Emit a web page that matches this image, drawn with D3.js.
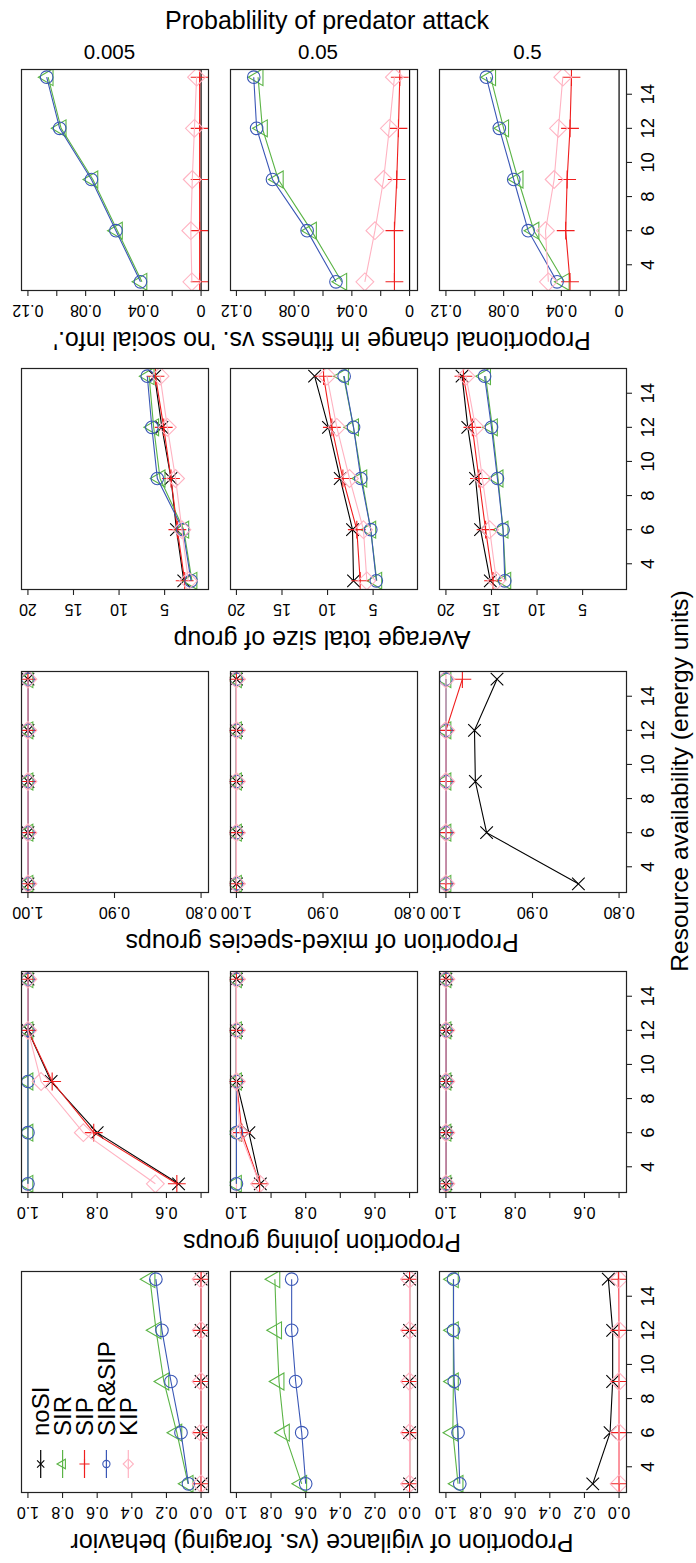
<!DOCTYPE html>
<html><head><meta charset="utf-8">
<script src="https://cdn.jsdelivr.net/npm/d3@7"></script>
<style>body{margin:0;background:#fff}svg{display:block}</style>
</head><body><svg id="c" width="696" height="1563"></svg>
<script>
// ---------------- DATA ----------------
const resource = [3, 6, 9, 12, 15];
const resourceTicks = [4, 6, 8, 10, 12, 14];
const attackProbs = ["0.005", "0.05", "0.5"];
const seriesNames = ["noSI", "SIR", "SIP", "SIR&SIP", "KIP"];

// Row 1: proportional change in fitness vs. 'no social info.' (one list per attack probability)
const fitness_SIR    = [[0.041, 0.058, 0.075, 0.097, 0.106], [0.047, 0.068, 0.091, 0.102, 0.105], [0.038, 0.059, 0.070, 0.080, 0.089]];
const fitness_SIP    = [[0.001, 0.001, 0.001, 0.001, 0.001], [0.0105, 0.0105, 0.0089, 0.0077, 0.0068], [0.034, 0.037, 0.036, 0.034, 0.033]];
const fitness_SIRSIP = [[0.042, 0.059, 0.076, 0.098, 0.107], [0.051, 0.071, 0.095, 0.106, 0.108], [0.043, 0.063, 0.073, 0.083, 0.092]];
const fitness_KIP    = [[0.0064, 0.0071, 0.0061, 0.0046, 0.0031], [0.031, 0.024, 0.018, 0.014, 0.0105], [0.049, 0.051, 0.045, 0.042, 0.039]];
const fitnessTicks = [0, 0.02, 0.04, 0.06, 0.08, 0.10, 0.12];
const fitnessTickLabels = ["0", "", "0.04", "", "0.08", "", "0.12"];

// Row 2: average total size of group
const size_noSI   = [[2.9, 3.7, 4.3, 5.3, 6.1], [7.15, 7.26, 8.61, 9.9, 11.42], [15.13, 16.2, 16.75, 17.6, 18.23]];
const size_SIR    = [[2.0, 2.9, 5.5, 6.2, 6.7], [4.6, 5.26, 6.24, 7.15, 8.25], [13.43, 13.73, 14.28, 14.9, 15.65]];
const size_SIP    = [[2.8, 3.6, 4.3, 5.1, 6.0], [6.42, 6.79, 8.32, 9.53, 10.44], [14.83, 15.65, 16.38, 17.1, 18.08]];
const size_SIRSIP = [[2.1, 3.0, 5.8, 6.4, 6.9], [4.65, 5.26, 6.35, 7.15, 8.18], [13.54, 13.73, 14.35, 15.0, 15.76]];
const size_KIP    = [[2.4, 3.1, 3.8, 4.7, 5.5], [5.69, 6.06, 7.59, 8.98, 10.07], [14.46, 15.2, 16.0, 16.75, 17.8]];
const sizeTicks = [5, 10, 15, 20];
const sizeTickLabels = ["5", "10", "15", "20"];

// Row 3: proportion of mixed-species groups
const mixed_noSI   = [[1, 1, 1, 1, 1], [1, 1, 1, 1, 1], [0.847, 0.953, 0.966, 0.967, 0.941]];
const mixed_SIR    = [[1, 1, 1, 1, 1], [1, 1, 1, 1, 1], [1, 1, 1, 1, 1]];
const mixed_SIP    = [[1, 1, 1, 1, 1], [1, 1, 1, 1, 1], [1, 1, 1, 1, 0.981]];
const mixed_SIRSIP = [[1, 1, 1, 1, 1], [1, 1, 1, 1, 1], [1, 1, 1, 1, 1]];
const mixed_KIP    = [[1, 1, 1, 1, 1], [1, 1, 1, 1, 1], [1, 1, 1, 1, 1]];
const mixedTicks = [0.80, 0.90, 1.00];
const mixedTickLabels = ["0.80", "0.90", "1.00"];

// Row 4: proportion joining groups
const join_noSI   = [[0.565, 0.80, 0.933, 1, 1], [0.931, 0.964, 1, 1, 1], [1, 1, 1, 1, 1]];
const join_SIR    = [[1, 1, 1, 1, 1], [1, 1, 1, 1, 1], [1, 1, 1, 1, 1]];
const join_SIP    = [[0.57, 0.81, 0.93, 1, 1], [0.933, 0.984, 1, 1, 1], [1, 1, 1, 1, 1]];
const join_SIRSIP = [[1, 1, 1, 1, 1], [1, 1, 1, 1, 1], [1, 1, 1, 1, 1]];
const join_KIP    = [[0.632, 0.84, 0.962, 1, 1], [0.933, 0.99, 1, 1, 1], [1, 1, 1, 1, 1]];
const joinTicks = [0.5, 0.6, 0.7, 0.8, 0.9, 1.0];
const joinTickLabels = ["", "0.6", "", "0.8", "", "1.0"];

// Row 5: proportion of vigilance (vs. foraging) behavior
const vig_noSI   = [[0, 0, 0, 0, 0], [0, 0, 0, 0, 0], [0.152, 0.052, 0.037, 0.037, 0.062]];
const vig_SIR    = [[0.075, 0.14, 0.215, 0.26, 0.295], [0.623, 0.723, 0.754, 0.768, 0.778], [0.93, 0.96, 0.957, 0.957, 0.957]];
const vig_SIP    = [[0, 0, 0, 0, 0], [0, 0, 0, 0, 0], [0, 0, 0, 0, 0.004]];
const vig_SIRSIP = [[0.073, 0.116, 0.174, 0.226, 0.261], [0.600, 0.623, 0.658, 0.681, 0.681], [0.92, 0.93, 0.952, 0.956, 0.956]];
const vig_KIP    = [[0, 0, 0, 0, 0], [0, 0, 0, 0, 0], [0, 0, 0, 0, 0]];
const vigTicks = [0, 0.2, 0.4, 0.6, 0.8, 1.0];
const vigTickLabels = ["0.0", "0.2", "0.4", "0.6", "0.8", "1.0"];

const rowTitles = [
  "Proportional change in fitness vs. 'no social info.'",
  "Average total size of group",
  "Proportion of mixed-species groups",
  "Proportion joining groups",
  "Proportion of vigilance (vs. foraging) behavior"
];

// ---------------- LAYOUT / STYLE ----------------
const colors = ["#000000", "#5BB446", "#F01E1E", "#3A57B6", "#FFB3C2"];
const colLeft = [21, 229.5, 439], panelW = 187;
const rowTop = [69, 368, 671, 971, 1271], panelH = 221;
const R = 6.3;
const FONT = "'Liberation Sans', Arial, Helvetica, sans-serif";

const rows = [
  { lim: [0, 0.12], ticks: fitnessTicks, labels: fitnessTickLabels, ref: 0, refColor: "#000",
    series: [null, fitness_SIR, fitness_SIP, fitness_SIRSIP, fitness_KIP] },
  { lim: [1, 20], ticks: sizeTicks, labels: sizeTickLabels, ref: null,
    series: [size_noSI, size_SIR, size_SIP, size_SIRSIP, size_KIP] },
  { lim: [0.8, 1.0], ticks: mixedTicks, labels: mixedTickLabels, ref: 1, refColor: colors[4],
    series: [mixed_noSI, mixed_SIR, mixed_SIP, mixed_SIRSIP, mixed_KIP] },
  { lim: [0.5, 1.0], ticks: joinTicks, labels: joinTickLabels, ref: 1, refColor: colors[4],
    series: [join_noSI, join_SIR, join_SIP, join_SIRSIP, join_KIP] },
  { lim: [0, 1], ticks: vigTicks, labels: vigTickLabels, ref: 0, refColor: colors[4],
    series: [vig_noSI, vig_SIR, vig_SIP, vig_SIRSIP, vig_KIP] }
];

function markerPath(k, r) {
  const s = Math.SQRT2 * r;
  if (k === 0) return `M${-r},${-r}L${r},${r}M${-r},${r}L${r},${-r}`;
  if (k === 1) return `M${-1.555*r},0L${0.778*r},${-1.347*r}L${0.778*r},${1.347*r}Z`;
  if (k === 2) return `M${-s},0L${s},0M0,${-s}L0,${s}`;
  if (k === 3) return d3.symbol(d3.symbolCircle, Math.PI * r * r)();
  return `M${-s},0L0,${-s}L${s},0L0,${s}Z`;
}

const svg = d3.select("#c");
svg.append("rect").attr("width", 696).attr("height", 1563).attr("fill", "#fff");

// main title and column headers
svg.append("text").attr("x", 327).attr("y", 29).attr("text-anchor", "middle")
  .attr("font-family", FONT).attr("font-size", 25).text("Probablility of predator attack");
attackProbs.forEach((p, c) => {
  svg.append("text").attr("x", colLeft[c] + panelW / 2 - 5).attr("y", 59).attr("text-anchor", "middle")
    .attr("font-family", FONT).attr("font-size", 20.5).text(p);
});

rows.forEach((row, r) => {
  const y0 = rowTop[r];
  const pad = (row.lim[1] - row.lim[0]) * 0.04;
  attackProbs.forEach((p, c) => {
    const x0 = colLeft[c];
    const vs = d3.scaleLinear().domain([row.lim[0] - pad, row.lim[1] + pad]).range([x0 + panelW, x0]);
    const rs = d3.scaleLinear().domain([2.52, 15.48]).range([y0 + panelH, y0]);
    const id = `clip-${r}-${c}`;
    svg.append("clipPath").attr("id", id).append("rect")
      .attr("x", x0).attr("y", y0).attr("width", panelW).attr("height", panelH);
    const g = svg.append("g").attr("clip-path", `url(#${id})`);
    if (row.ref !== null) {
      g.append("line").attr("x1", vs(row.ref)).attr("x2", vs(row.ref))
        .attr("y1", y0).attr("y2", y0 + panelH).attr("stroke", row.refColor).attr("stroke-width", 1.2);
    }
    row.series.forEach((ser, k) => {
      if (!ser) return;
      const vals = ser[c];
      const pts = resource.map((x, i) => [vs(vals[i]), rs(x)]);
      g.append("path").attr("d", d3.line()(pts)).attr("fill", "none")
        .attr("stroke", colors[k]).attr("stroke-width", 1.1);
      pts.forEach(pt => {
        g.append("path").attr("d", markerPath(k, R)).attr("transform", `translate(${pt[0]},${pt[1]})`)
          .attr("fill", "none").attr("stroke", colors[k]).attr("stroke-width", 1.1);
      });
    });
    // box
    svg.append("rect").attr("x", Math.round(x0) + 0.5).attr("y", Math.round(y0) + 0.5)
      .attr("width", Math.round(panelW)).attr("height", panelH)
      .attr("fill", "none").attr("stroke", "#222").attr("stroke-width", 1.2);
    // value axis (bottom)
    const yb = y0 + panelH;
    row.ticks.forEach((t, i) => {
      svg.append("line").attr("x1", vs(t)).attr("x2", vs(t)).attr("y1", yb).attr("y2", yb + 6)
        .attr("stroke", "#222").attr("stroke-width", 1.1);
      if (row.labels[i]) {
        svg.append("text").attr("transform", `translate(${vs(t)},${yb + 20}) rotate(180)`)
          .attr("text-anchor", "middle").attr("dominant-baseline", "central")
          .attr("font-family", FONT).attr("font-size", 16).text(row.labels[i]);
      }
    });
    // resource axis on the right column
    if (c === 2) {
      const xr = x0 + panelW;
      resourceTicks.forEach(t => {
        svg.append("line").attr("x1", xr).attr("x2", xr + 6).attr("y1", rs(t)).attr("y2", rs(t))
          .attr("stroke", "#222").attr("stroke-width", 1.1);
        svg.append("text").attr("transform", `translate(647,${rs(t)}) rotate(-90)`)
          .attr("text-anchor", "middle").attr("dominant-baseline", "central")
          .attr("font-family", FONT).attr("font-size", 18.5).text(t);
      });
    }
  });
  // row title (upside down)
  svg.append("text").attr("transform", `translate(322,${y0 + panelH + 51}) rotate(180)`)
    .attr("text-anchor", "middle").attr("dominant-baseline", "central")
    .attr("font-family", FONT).attr("font-size", 25).text(rowTitles[r]);
});

// resource availability title
svg.append("text").attr("transform", "translate(679,781) rotate(-90)")
  .attr("text-anchor", "middle").attr("dominant-baseline", "central")
  .attr("font-family", FONT).attr("font-size", 24.5).text("Resource availability (energy units)");

// legend (inside vigilance panel of first column)
const legX = [40.7, 62.6, 84.5, 106.4, 128.3];
seriesNames.forEach((name, k) => {
  const lx = legX[k];
  svg.append("line").attr("x1", lx).attr("x2", lx).attr("y1", 1450).attr("y2", 1478)
    .attr("stroke", colors[k]).attr("stroke-width", 1.2);
  svg.append("path").attr("d", markerPath(k, 3.6)).attr("transform", `translate(${lx},1464)`)
    .attr("fill", "none").attr("stroke", colors[k]).attr("stroke-width", 1.1);
  svg.append("text").attr("transform", `translate(${lx},1436) rotate(-90)`)
    .attr("text-anchor", "start").attr("dominant-baseline", "central")
    .attr("font-family", FONT).attr("font-size", 24).text(name);
});
</script>
</body></html>
